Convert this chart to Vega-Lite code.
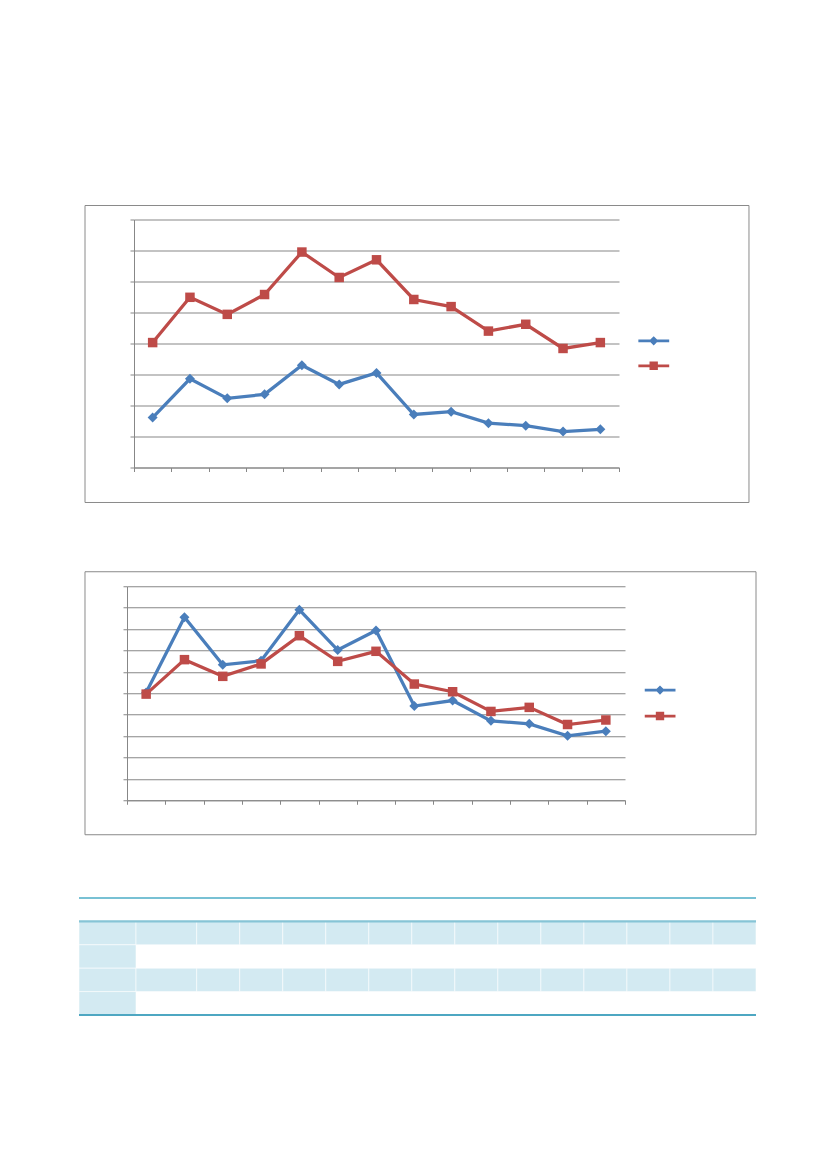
{
  "$schema": "https://vega.github.io/schema/vega-lite/v6.json",
  "background": "white",
  "padding": {"left": 77, "top": 204.5, "right": 0, "bottom": 0},
  "columns": 1,
  "spacing": 61.75,
  "resolve": {
    "scale": {"x": "independent", "y": "independent", "color": "independent", "shape": "independent"},
    "legend": {"color": "independent", "shape": "independent"}
  },
  "config": {
    "view": {"stroke": null},
    "axis": {"labels": false, "title": null, "domainColor": "#878787", "tickColor": "#878787", "gridColor": "#878787", "domainWidth": 1, "tickWidth": 1, "gridWidth": 1, "tickSize": 4},
    "axisX": {"grid": false},
    "axisY": {"grid": true}
  },
  "concat": [
    {
      "width": 492,
      "height": 248,
      "data": {"values": [
        {"period": 1, "series": "S1", "value": 1.61}, {"period": 2, "series": "S1", "value": 2.86}, {"period": 3, "series": "S1", "value": 2.23}, {"period": 4, "series": "S1", "value": 2.36}, {"period": 5, "series": "S1", "value": 3.30}, {"period": 6, "series": "S1", "value": 2.68}, {"period": 7, "series": "S1", "value": 3.05}, {"period": 8, "series": "S1", "value": 1.71}, {"period": 9, "series": "S1", "value": 1.80}, {"period": 10, "series": "S1", "value": 1.43}, {"period": 11, "series": "S1", "value": 1.35}, {"period": 12, "series": "S1", "value": 1.16}, {"period": 13, "series": "S1", "value": 1.23},
        {"period": 1, "series": "S2", "value": 4.03}, {"period": 2, "series": "S2", "value": 5.49}, {"period": 3, "series": "S2", "value": 4.94}, {"period": 4, "series": "S2", "value": 5.58}, {"period": 5, "series": "S2", "value": 6.95}, {"period": 6, "series": "S2", "value": 6.13}, {"period": 7, "series": "S2", "value": 6.70}, {"period": 8, "series": "S2", "value": 5.42}, {"period": 9, "series": "S2", "value": 5.19}, {"period": 10, "series": "S2", "value": 4.40}, {"period": 11, "series": "S2", "value": 4.62}, {"period": 12, "series": "S2", "value": 3.84}, {"period": 13, "series": "S2", "value": 4.03}
      ]},
      "layer": [
        {
          "data": {"values": [{}]},
          "mark": {"type": "rect", "fill": "transparent", "stroke": "#8a8a8a", "strokeWidth": 1},
          "encoding": {
            "x": {"datum": -0.8134, "type": "quantitative", "scale": {"domain": [0.5, 13.5], "range": [7, 492], "nice": false, "zero": false}, "axis": {"title": null, "values": [0.5, 1.5, 2.5, 3.5, 4.5, 5.5, 6.5, 7.5, 8.5, 9.5, 10.5, 11.5, 12.5, 13.5]}},
            "x2": {"datum": 16.984},
            "y": {"datum": -1.129, "type": "quantitative", "scale": {"domain": [0, 8], "nice": false, "zero": false}, "axis": {"title": null, "offset": -7, "values": [0, 1, 2, 3, 4, 5, 6, 7, 8]}},
            "y2": {"datum": 8.4516}
          }
        },
        {
          "data": {"values": [{}]},
          "mark": {"type": "rect", "fill": "white", "opacity": 0},
          "encoding": {
            "x": {"datum": 0.5, "type": "quantitative", "scale": {"domain": [0.5, 13.5], "range": [7, 492], "nice": false, "zero": false}, "axis": {"title": null, "values": [0.5, 1.5, 2.5, 3.5, 4.5, 5.5, 6.5, 7.5, 8.5, 9.5, 10.5, 11.5, 12.5, 13.5]}},
            "x2": {"datum": 1.5},
            "y": {"datum": -1.3145, "type": "quantitative", "scale": {"domain": [0, 8], "nice": false, "zero": false}, "axis": {"title": null, "offset": -7, "values": [0, 1, 2, 3, 4, 5, 6, 7, 8]}},
            "y2": {"datum": 0}
          }
        },
        {
          "transform": [{"filter": "datum.series == 'S1'"}],
          "mark": {"type": "line", "strokeWidth": 3.25, "color": "#4a7ebb"},
          "encoding": {
            "x": {"field": "period", "type": "quantitative", "scale": {"domain": [0.5, 13.5], "range": [7, 492], "nice": false, "zero": false}, "axis": {"title": null, "values": [0.5, 1.5, 2.5, 3.5, 4.5, 5.5, 6.5, 7.5, 8.5, 9.5, 10.5, 11.5, 12.5, 13.5]}},
            "y": {"field": "value", "type": "quantitative", "scale": {"domain": [0, 8], "nice": false, "zero": false}, "axis": {"title": null, "offset": -7, "values": [0, 1, 2, 3, 4, 5, 6, 7, 8]}}
          }
        },
        {
          "transform": [{"filter": "datum.series == 'S2'"}],
          "mark": {"type": "line", "strokeWidth": 3.25, "color": "#be4b48"},
          "encoding": {
            "x": {"field": "period", "type": "quantitative", "scale": {"domain": [0.5, 13.5], "range": [7, 492], "nice": false, "zero": false}, "axis": {"title": null, "values": [0.5, 1.5, 2.5, 3.5, 4.5, 5.5, 6.5, 7.5, 8.5, 9.5, 10.5, 11.5, 12.5, 13.5]}},
            "y": {"field": "value", "type": "quantitative", "scale": {"domain": [0, 8], "nice": false, "zero": false}, "axis": {"title": null, "offset": -7, "values": [0, 1, 2, 3, 4, 5, 6, 7, 8]}}
          }
        },
        {
          "transform": [{"filter": "datum.series == 'S1'"}],
          "mark": {"type": "point", "filled": true, "size": 100, "opacity": 1, "shape": "diamond", "color": "#4a7ebb"},
          "encoding": {
            "x": {"field": "period", "type": "quantitative", "scale": {"domain": [0.5, 13.5], "range": [7, 492], "nice": false, "zero": false}, "axis": {"title": null, "values": [0.5, 1.5, 2.5, 3.5, 4.5, 5.5, 6.5, 7.5, 8.5, 9.5, 10.5, 11.5, 12.5, 13.5]}},
            "y": {"field": "value", "type": "quantitative", "scale": {"domain": [0, 8], "nice": false, "zero": false}, "axis": {"title": null, "offset": -7, "values": [0, 1, 2, 3, 4, 5, 6, 7, 8]}}
          }
        },
        {
          "transform": [{"filter": "datum.series == 'S2'"}],
          "mark": {"type": "point", "filled": true, "size": 90, "opacity": 1, "shape": "square", "color": "#be4b48"},
          "encoding": {
            "x": {"field": "period", "type": "quantitative", "scale": {"domain": [0.5, 13.5], "range": [7, 492], "nice": false, "zero": false}, "axis": {"title": null, "values": [0.5, 1.5, 2.5, 3.5, 4.5, 5.5, 6.5, 7.5, 8.5, 9.5, 10.5, 11.5, 12.5, 13.5]}},
            "y": {"field": "value", "type": "quantitative", "scale": {"domain": [0, 8], "nice": false, "zero": false}, "axis": {"title": null, "offset": -7, "values": [0, 1, 2, 3, 4, 5, 6, 7, 8]}}
          }
        },
        {
          "transform": [{"filter": "false"}],
          "mark": {"type": "point", "filled": true, "opacity": 1},
          "encoding": {
            "x": {"field": "period", "type": "quantitative", "scale": {"domain": [0.5, 13.5], "range": [7, 492], "nice": false, "zero": false}, "axis": {"title": null, "values": [0.5, 1.5, 2.5, 3.5, 4.5, 5.5, 6.5, 7.5, 8.5, 9.5, 10.5, 11.5, 12.5, 13.5]}},
            "y": {"field": "value", "type": "quantitative", "scale": {"domain": [0, 8], "nice": false, "zero": false}, "axis": {"title": null, "offset": -7, "values": [0, 1, 2, 3, 4, 5, 6, 7, 8]}},
            "shape": {
              "field": "series", "type": "nominal",
              "scale": {"domain": ["S1", "S2"], "range": ["M-1,-0.09H1V0.09H-1Z M0,-0.3L0.3,0L0,0.3L-0.3,0Z", "M-1,-0.09H1V0.09H-1Z M-0.27,-0.27H0.27V0.27H-0.27Z"]},
              "legend": {"orient": "none", "legendX": 511.2, "legendY": 108.8, "title": null, "labelExpr": "''", "symbolSize": 961, "clipHeight": 25, "rowPadding": 0, "padding": 0, "symbolOpacity": 1, "symbolStrokeWidth": 0}
            },
            "color": {
              "field": "series", "type": "nominal",
              "scale": {"domain": ["S1", "S2"], "range": ["#4a7ebb", "#be4b48"]},
              "legend": {"orient": "none", "legendX": 511.2, "legendY": 108.8, "title": null, "labelExpr": "''", "symbolSize": 961, "clipHeight": 25, "rowPadding": 0, "padding": 0, "symbolOpacity": 1, "symbolStrokeWidth": 0}
            }
          }
        }
      ]
    },
    {
      "width": 498,
      "height": 214,
      "data": {"values": [
        {"period": 1, "series": "S1", "value": 5.04}, {"period": 2, "series": "S1", "value": 8.55}, {"period": 3, "series": "S1", "value": 6.33}, {"period": 4, "series": "S1", "value": 6.52}, {"period": 5, "series": "S1", "value": 8.90}, {"period": 6, "series": "S1", "value": 7.02}, {"period": 7, "series": "S1", "value": 7.93}, {"period": 8, "series": "S1", "value": 4.40}, {"period": 9, "series": "S1", "value": 4.66}, {"period": 10, "series": "S1", "value": 3.71}, {"period": 11, "series": "S1", "value": 3.57}, {"period": 12, "series": "S1", "value": 3.01}, {"period": 13, "series": "S1", "value": 3.23},
        {"period": 1, "series": "S2", "value": 4.96}, {"period": 2, "series": "S2", "value": 6.57}, {"period": 3, "series": "S2", "value": 5.79}, {"period": 4, "series": "S2", "value": 6.37}, {"period": 5, "series": "S2", "value": 7.69}, {"period": 6, "series": "S2", "value": 6.49}, {"period": 7, "series": "S2", "value": 6.96}, {"period": 8, "series": "S2", "value": 5.43}, {"period": 9, "series": "S2", "value": 5.07}, {"period": 10, "series": "S2", "value": 4.15}, {"period": 11, "series": "S2", "value": 4.34}, {"period": 12, "series": "S2", "value": 3.54}, {"period": 13, "series": "S2", "value": 3.75}
      ]},
      "layer": [
        {
          "data": {"values": [{}]},
          "mark": {"type": "rect", "fill": "transparent", "stroke": "#8a8a8a", "strokeWidth": 1},
          "encoding": {
            "x": {"datum": -0.5964, "type": "quantitative", "scale": {"domain": [0.5, 13.5], "nice": false, "zero": false}, "axis": {"title": null, "values": [0.5, 1.5, 2.5, 3.5, 4.5, 5.5, 6.5, 7.5, 8.5, 9.5, 10.5, 11.5, 12.5, 13.5]}},
            "x2": {"datum": 16.92},
            "y": {"datum": -1.612, "type": "quantitative", "scale": {"domain": [0, 10], "nice": false, "zero": false}, "axis": {"title": null, "values": [0, 1, 2, 3, 4, 5, 6, 7, 8, 9, 10]}},
            "y2": {"datum": 10.678}
          }
        },
        {
          "transform": [{"filter": "datum.series == 'S1'"}],
          "mark": {"type": "line", "strokeWidth": 3.25, "color": "#4a7ebb"},
          "encoding": {
            "x": {"field": "period", "type": "quantitative", "scale": {"domain": [0.5, 13.5], "nice": false, "zero": false}, "axis": {"title": null, "values": [0.5, 1.5, 2.5, 3.5, 4.5, 5.5, 6.5, 7.5, 8.5, 9.5, 10.5, 11.5, 12.5, 13.5]}},
            "y": {"field": "value", "type": "quantitative", "scale": {"domain": [0, 10], "nice": false, "zero": false}, "axis": {"title": null, "values": [0, 1, 2, 3, 4, 5, 6, 7, 8, 9, 10]}}
          }
        },
        {
          "transform": [{"filter": "datum.series == 'S2'"}],
          "mark": {"type": "line", "strokeWidth": 3.25, "color": "#be4b48"},
          "encoding": {
            "x": {"field": "period", "type": "quantitative", "scale": {"domain": [0.5, 13.5], "nice": false, "zero": false}, "axis": {"title": null, "values": [0.5, 1.5, 2.5, 3.5, 4.5, 5.5, 6.5, 7.5, 8.5, 9.5, 10.5, 11.5, 12.5, 13.5]}},
            "y": {"field": "value", "type": "quantitative", "scale": {"domain": [0, 10], "nice": false, "zero": false}, "axis": {"title": null, "values": [0, 1, 2, 3, 4, 5, 6, 7, 8, 9, 10]}}
          }
        },
        {
          "transform": [{"filter": "datum.series == 'S1'"}],
          "mark": {"type": "point", "filled": true, "size": 100, "opacity": 1, "shape": "diamond", "color": "#4a7ebb"},
          "encoding": {
            "x": {"field": "period", "type": "quantitative", "scale": {"domain": [0.5, 13.5], "nice": false, "zero": false}, "axis": {"title": null, "values": [0.5, 1.5, 2.5, 3.5, 4.5, 5.5, 6.5, 7.5, 8.5, 9.5, 10.5, 11.5, 12.5, 13.5]}},
            "y": {"field": "value", "type": "quantitative", "scale": {"domain": [0, 10], "nice": false, "zero": false}, "axis": {"title": null, "values": [0, 1, 2, 3, 4, 5, 6, 7, 8, 9, 10]}}
          }
        },
        {
          "transform": [{"filter": "datum.series == 'S2'"}],
          "mark": {"type": "point", "filled": true, "size": 90, "opacity": 1, "shape": "square", "color": "#be4b48"},
          "encoding": {
            "x": {"field": "period", "type": "quantitative", "scale": {"domain": [0.5, 13.5], "nice": false, "zero": false}, "axis": {"title": null, "values": [0.5, 1.5, 2.5, 3.5, 4.5, 5.5, 6.5, 7.5, 8.5, 9.5, 10.5, 11.5, 12.5, 13.5]}},
            "y": {"field": "value", "type": "quantitative", "scale": {"domain": [0, 10], "nice": false, "zero": false}, "axis": {"title": null, "values": [0, 1, 2, 3, 4, 5, 6, 7, 8, 9, 10]}}
          }
        },
        {
          "transform": [{"filter": "false"}],
          "mark": {"type": "point", "filled": true, "opacity": 1},
          "encoding": {
            "x": {"field": "period", "type": "quantitative", "scale": {"domain": [0.5, 13.5], "nice": false, "zero": false}, "axis": {"title": null, "values": [0.5, 1.5, 2.5, 3.5, 4.5, 5.5, 6.5, 7.5, 8.5, 9.5, 10.5, 11.5, 12.5, 13.5]}},
            "y": {"field": "value", "type": "quantitative", "scale": {"domain": [0, 10], "nice": false, "zero": false}, "axis": {"title": null, "values": [0, 1, 2, 3, 4, 5, 6, 7, 8, 9, 10]}},
            "shape": {
              "field": "series", "type": "nominal",
              "scale": {"domain": ["S1", "S2"], "range": ["M-1,-0.09H1V0.09H-1Z M0,-0.3L0.3,0L0,0.3L-0.3,0Z", "M-1,-0.09H1V0.09H-1Z M-0.27,-0.27H0.27V0.27H-0.27Z"]},
              "legend": {"orient": "none", "legendX": 517.5, "legendY": 90.8, "title": null, "labelExpr": "''", "symbolSize": 961, "clipHeight": 26, "rowPadding": 0, "padding": 0, "symbolOpacity": 1, "symbolStrokeWidth": 0}
            },
            "color": {
              "field": "series", "type": "nominal",
              "scale": {"domain": ["S1", "S2"], "range": ["#4a7ebb", "#be4b48"]},
              "legend": {"orient": "none", "legendX": 517.5, "legendY": 90.8, "title": null, "labelExpr": "''", "symbolSize": 961, "clipHeight": 26, "rowPadding": 0, "padding": 0, "symbolOpacity": 1, "symbolStrokeWidth": 0}
            }
          }
        }
      ]
    },
    {
      "width": 629,
      "height": 117,
      "data": {"values": [
        {"kind": "cell", "row": "r1", "col": "label", "c0": 0, "c1": 1.325},
        {"kind": "cell", "row": "r2", "col": "label", "c0": 0, "c1": 1.325},
        {"kind": "cell", "row": "r3", "col": "label", "c0": 0, "c1": 1.325},
        {"kind": "cell", "row": "r4", "col": "label", "c0": 0, "c1": 1.325},
        {"kind": "cell", "row": "r1", "col": "unit", "c0": 1.325, "c1": 2.736},
        {"kind": "cell", "row": "r1", "col": "y1", "c0": 2.736, "c1": 3.736},
        {"kind": "cell", "row": "r1", "col": "y2", "c0": 3.736, "c1": 4.736},
        {"kind": "cell", "row": "r1", "col": "y3", "c0": 4.736, "c1": 5.736},
        {"kind": "cell", "row": "r1", "col": "y4", "c0": 5.736, "c1": 6.736},
        {"kind": "cell", "row": "r1", "col": "y5", "c0": 6.736, "c1": 7.736},
        {"kind": "cell", "row": "r1", "col": "y6", "c0": 7.736, "c1": 8.736},
        {"kind": "cell", "row": "r1", "col": "y7", "c0": 8.736, "c1": 9.736},
        {"kind": "cell", "row": "r1", "col": "y8", "c0": 9.736, "c1": 10.736},
        {"kind": "cell", "row": "r1", "col": "y9", "c0": 10.736, "c1": 11.736},
        {"kind": "cell", "row": "r1", "col": "y10", "c0": 11.736, "c1": 12.736},
        {"kind": "cell", "row": "r1", "col": "y11", "c0": 12.736, "c1": 13.736},
        {"kind": "cell", "row": "r1", "col": "y12", "c0": 13.736, "c1": 14.736},
        {"kind": "cell", "row": "r1", "col": "y13", "c0": 14.736, "c1": 15.736},
        {"kind": "cell", "row": "r3", "col": "unit", "c0": 1.325, "c1": 2.736},
        {"kind": "cell", "row": "r3", "col": "y1", "c0": 2.736, "c1": 3.736},
        {"kind": "cell", "row": "r3", "col": "y2", "c0": 3.736, "c1": 4.736},
        {"kind": "cell", "row": "r3", "col": "y3", "c0": 4.736, "c1": 5.736},
        {"kind": "cell", "row": "r3", "col": "y4", "c0": 5.736, "c1": 6.736},
        {"kind": "cell", "row": "r3", "col": "y5", "c0": 6.736, "c1": 7.736},
        {"kind": "cell", "row": "r3", "col": "y6", "c0": 7.736, "c1": 8.736},
        {"kind": "cell", "row": "r3", "col": "y7", "c0": 8.736, "c1": 9.736},
        {"kind": "cell", "row": "r3", "col": "y8", "c0": 9.736, "c1": 10.736},
        {"kind": "cell", "row": "r3", "col": "y9", "c0": 10.736, "c1": 11.736},
        {"kind": "cell", "row": "r3", "col": "y10", "c0": 11.736, "c1": 12.736},
        {"kind": "cell", "row": "r3", "col": "y11", "c0": 12.736, "c1": 13.736},
        {"kind": "cell", "row": "r3", "col": "y12", "c0": 13.736, "c1": 14.736},
        {"kind": "cell", "row": "r3", "col": "y13", "c0": 14.736, "c1": 15.736},
        {"kind": "line", "line": "top", "row": "h", "c0": 0, "c1": 15.736},
        {"kind": "line", "line": "head", "row": "r1", "c0": 0, "c1": 15.736},
        {"kind": "line", "line": "bottom", "row": "r4", "c0": 0, "c1": 15.736}
      ]},
      "layer": [
        {
          "transform": [{"filter": "datum.kind == 'cell'"}],
          "mark": {"type": "rect", "fill": "#d3eaf2", "stroke": "#ffffff", "strokeOpacity": 0.55, "strokeWidth": 1},
          "encoding": {
            "x": {"field": "c0", "type": "quantitative", "axis": null, "scale": {"domain": [0, 15.736], "range": [-48, 629], "nice": false, "zero": false}},
            "x2": {"field": "c1"},
            "y": {"field": "row", "type": "ordinal", "axis": null, "scale": {"domain": ["h", "r1", "r2", "r3", "r4"], "paddingInner": 0, "paddingOuter": 0}}
          }
        },
        {
          "transform": [{"filter": "datum.line == 'top'"}],
          "mark": {"type": "rule", "color": "#4bacc6", "strokeWidth": 1.5},
          "encoding": {
            "x": {"field": "c0", "type": "quantitative", "axis": null, "scale": {"domain": [0, 15.736], "range": [-48, 629], "nice": false, "zero": false}},
            "x2": {"field": "c1"},
            "y": {"field": "row", "type": "ordinal", "bandPosition": 0, "axis": null, "scale": {"domain": ["h", "r1", "r2", "r3", "r4"], "paddingInner": 0, "paddingOuter": 0}}
          }
        },
        {
          "transform": [{"filter": "datum.line == 'head'"}],
          "mark": {"type": "rule", "color": "#86c4d6", "strokeWidth": 2.2},
          "encoding": {
            "x": {"field": "c0", "type": "quantitative", "axis": null, "scale": {"domain": [0, 15.736], "range": [-48, 629], "nice": false, "zero": false}},
            "x2": {"field": "c1"},
            "y": {"field": "row", "type": "ordinal", "bandPosition": 0, "axis": null, "scale": {"domain": ["h", "r1", "r2", "r3", "r4"], "paddingInner": 0, "paddingOuter": 0}}
          }
        },
        {
          "transform": [{"filter": "datum.line == 'bottom'"}],
          "mark": {"type": "rule", "color": "#4ea7c2", "strokeWidth": 2},
          "encoding": {
            "x": {"field": "c0", "type": "quantitative", "axis": null, "scale": {"domain": [0, 15.736], "range": [-48, 629], "nice": false, "zero": false}},
            "x2": {"field": "c1"},
            "y": {"field": "row", "type": "ordinal", "bandPosition": 1, "axis": null, "scale": {"domain": ["h", "r1", "r2", "r3", "r4"], "paddingInner": 0, "paddingOuter": 0}}
          }
        }
      ]
    }
  ]
}
